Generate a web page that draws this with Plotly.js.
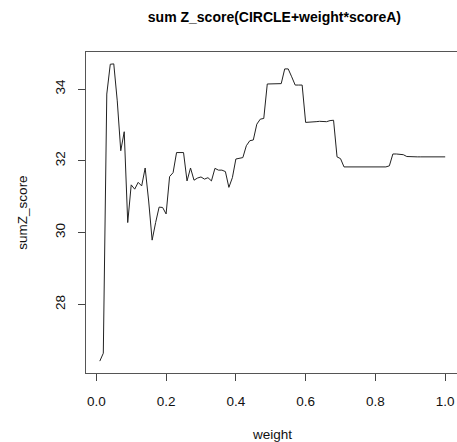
<!DOCTYPE html>
<html>
<head>
<meta charset="utf-8">
<script src="https://cdn.plot.ly/plotly-3.0.1.min.js"></script>
<style>
html, body { margin: 0; padding: 0; overflow: hidden; background: #fff; }
#chart { width: 462px; height: 442px; }
</style>
</head>
<body>
<div id="chart"></div>
<script>
const weight = [0.01,0.02,0.03,0.04,0.05,0.06,0.07,0.08,0.09,0.10,
  0.11,0.12,0.13,0.14,0.15,0.16,0.17,0.18,0.19,0.20,
  0.21,0.22,0.23,0.24,0.25,0.26,0.27,0.28,0.29,0.30,
  0.31,0.32,0.33,0.34,0.35,0.36,0.37,0.38,0.39,0.40,
  0.41,0.42,0.43,0.44,0.45,0.46,0.47,0.48,0.49,0.50,
  0.51,0.52,0.53,0.54,0.55,0.56,0.57,0.58,0.59,0.60,
  0.61,0.62,0.63,0.64,0.65,0.66,0.67,0.68,0.69,0.70,
  0.71,0.72,0.73,0.74,0.75,0.76,0.77,0.78,0.79,0.80,
  0.81,0.82,0.83,0.84,0.85,0.86,0.87,0.88,0.89,0.90,
  0.91,0.92,0.93,0.94,0.95,0.96,0.97,0.98,0.99,1.00];
const sumZ = [26.42,26.64,33.86,34.69,34.70,33.67,32.28,32.81,30.28,31.33,
  31.21,31.40,31.30,31.80,30.88,29.79,30.28,30.71,30.70,30.52,
  31.56,31.67,32.23,32.23,32.23,31.44,31.80,31.46,31.52,31.55,
  31.49,31.53,31.44,31.79,31.74,31.74,31.70,31.26,31.53,32.05,
  32.07,32.09,32.42,32.56,32.58,33.02,33.16,33.18,34.14,34.14,
  34.14,34.14,34.15,34.56,34.56,34.34,34.11,34.11,34.11,33.07,
  33.07,33.09,33.09,33.10,33.09,33.09,33.12,33.13,32.11,32.06,
  31.83,31.83,31.83,31.83,31.83,31.83,31.83,31.83,31.83,31.83,
  31.83,31.83,31.83,31.86,32.19,32.19,32.19,32.17,32.12,32.11,
  32.11,32.11,32.11,32.11,32.11,32.11,32.11,32.11,32.11,32.11];
const xTickVals = [0, 0.2, 0.4, 0.6, 0.8, 1.0];
const xTickText = ["0.0", "0.2", "0.4", "0.6", "0.8", "1.0"];
const yTickVals = [28, 30, 32, 34];
const yTickText = ["28", "30", "32", "34"];

const fontFam = "Liberation Sans, Arial, sans-serif";
const trace = {
  x: weight, y: sumZ, type: "scatter", mode: "lines",
  line: { color: "#222", width: 1 }, hoverinfo: "none"
};
const layout = {
  width: 462, height: 442,
  margin: { l: 86, r: 3, t: 52, b: 69 },
  paper_bgcolor: "#fff", plot_bgcolor: "#fff",
  font: { family: fontFam, size: 13.5, color: "#111" },
  showlegend: false,
  title: {
    text: "sum Z_score(CIRCLE+weight*scoreA)",
    font: { family: fontFam, size: 14, weight: "bold", color: "#000" },
    x: 0.594, xanchor: "center", xref: "container",
    y: 1 - 17/442, yanchor: "middle", yref: "container"
  },
  xaxis: {
    range: [-0.0296, 1.0396],
    tickvals: xTickVals, ticktext: xTickText,
    ticks: "outside", ticklen: 7, tickcolor: "#444", tickwidth: 1,
    showline: true, mirror: true, linecolor: "#555", linewidth: 1,
    showgrid: false, zeroline: false,
    ticklabelstandoff: 9,
    tickfont: { family: fontFam, size: 13.5, color: "#111" },
    title: { text: "weight", standoff: 23, font: { family: fontFam, size: 13.5, color: "#111" } }
  },
  yaxis: {
    range: [26.089, 35.031],
    tickvals: yTickVals, ticktext: yTickText,
    tickangle: -90,
    ticks: "outside", ticklen: 7, tickcolor: "#444", tickwidth: 1,
    showline: true, mirror: true, linecolor: "#555", linewidth: 1,
    showgrid: false, zeroline: false,
    ticklabelstandoff: 8,
    tickfont: { family: fontFam, size: 13.5, color: "#111" },
    title: { text: "sumZ_score", standoff: 21, font: { family: fontFam, size: 13.5, color: "#111" } }
  }
};
Plotly.newPlot("chart", [trace], layout, { staticPlot: true, displayModeBar: false });
</script>
</body>
</html>
